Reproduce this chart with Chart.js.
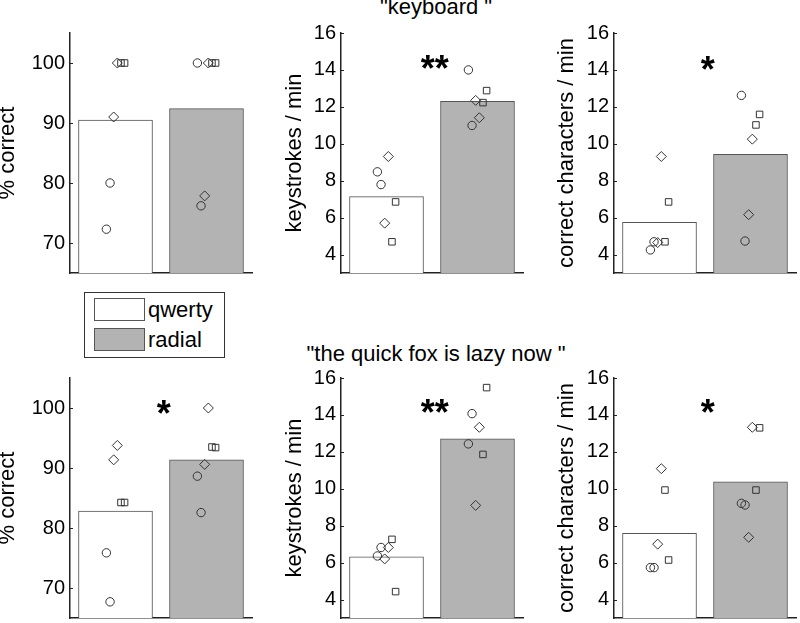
<!DOCTYPE html>
<html><head><meta charset="utf-8">
<script src="https://cdn.jsdelivr.net/npm/chart.js@4.4.0/dist/chart.umd.min.js"></script>
<style>
html,body{margin:0;padding:0;background:#fff;overflow:hidden;width:800px;height:623px;position:relative;}
canvas.c{position:absolute;}
.t{position:absolute;font-family:"Liberation Sans",Arial,sans-serif;font-size:22px;line-height:22px;color:#000;white-space:pre;}
.box{position:absolute;box-sizing:border-box;border:1px solid #333;background:#fff;}
.sw{position:absolute;box-sizing:border-box;border:1px solid #555;}
</style></head><body>
<div class="t" id="title1" style="top:-4px;left:436px;transform:translateX(-50%);"></div>
<div class="t" id="title2" style="top:343px;left:436px;transform:translateX(-50%);"></div>
<canvas class="c" id="p1" width="261" height="258" style="left:-3px;top:21px"></canvas>
<canvas class="c" id="p2" width="245" height="258" style="left:284px;top:21px"></canvas>
<canvas class="c" id="p3" width="246" height="258" style="left:556px;top:21px"></canvas>
<canvas class="c" id="p4" width="261" height="258" style="left:-3px;top:366px"></canvas>
<canvas class="c" id="p5" width="245" height="258" style="left:284px;top:366px"></canvas>
<canvas class="c" id="p6" width="246" height="258" style="left:556px;top:366px"></canvas>
<div class="box" style="left:84px;top:292px;width:141px;height:66px;"></div>
<div class="sw" style="left:94px;top:298px;width:51px;height:23px;background:#fff;"></div>
<div class="sw" style="left:94px;top:328px;width:51px;height:23px;background:#b3b3b3;"></div>
<div class="t" id="leg1" style="left:148px;top:299px;"></div>
<div class="t" id="leg2" style="left:148px;top:329px;"></div>
<script>
// ---------- data ----------
const groups = ['qwerty', 'radial'];
const rowTitles = ['"keyboard "', '"the quick fox is lazy now "'];
const yTitles = ['% correct', 'keystrokes / min', 'correct characters / min'];
const groupX = [1, 2];
// participant jitter (x offset in category units): circle1, circle2, diamond1, diamond2, square1, square2
const jitter = [-0.1, -0.06, -0.02, 0.02, 0.06, 0.1];

// row 1: "keyboard "
const kbAccMean = [90.5, 92.4];
const kbAccQwerty = [72.3, 80.0, 91.0, 100, 100, 100];
const kbAccRadial = [100, 76.2, 77.85, 100, 100, 100];
const kbKsMean = [7.14, 12.3];
const kbKsQwerty = [8.48, 7.79, 5.7, 9.31, 4.69, 6.85];
const kbKsRadial = [14.0, 10.99, 12.35, 11.41, 12.23, 12.88];
const kbCcMean = [5.75, 9.43];
const kbCcQwerty = [4.25, 4.69, 4.65, 9.31, 4.69, 6.85];
const kbCcRadial = [12.62, 4.73, 6.16, 10.25, 11.02, 11.59];

// row 2: "the quick fox is lazy now "
const fxAccMean = [82.8, 91.36];
const fxAccQwerty = [75.86, 67.7, 91.36, 93.76, 84.25, 84.25];
const fxAccRadial = [88.64, 82.57, 90.6, 100, 93.5, 93.4];
const fxKsMean = [6.32, 12.7];
const fxKsQwerty = [6.36, 6.82, 6.2, 6.82, 7.26, 4.43];
const fxKsRadial = [12.43, 14.07, 9.1, 13.33, 11.86, 15.48];
const fxCcMean = [7.59, 10.38];
const fxCcQwerty = [5.73, 5.73, 7.0, 11.09, 9.93, 6.14];
const fxCcRadial = [9.21, 9.12, 7.37, 13.33, 9.93, 13.3];

const accTicks = [70, 80, 90, 100];
const rateTicks = [4, 6, 8, 10, 12, 14, 16];
const accRange = [65, 105];
const rateRange = [3, 16];

// significance markers: text, x, y (data units)
const sigKbKs = ['**', 1.53, 14.43];
const sigKbCc = ['*', 1.53, 14.4];
const sigFxAcc = ['*', 1.53, 100.2];
const sigFxKs = ['**', 1.53, 14.47];
const sigFxCc = ['*', 1.53, 14.47];

// ---------- styles ----------
const FONT = '"Liberation Sans", Arial, Helvetica, sans-serif';
const markerStyles = ['circle', 'circle', 'rectRot', 'rectRot', 'rect', 'rect'];
const markerRadii = [4.2, 4.2, 5, 5, 4.6, 4.6];
const barFill = ['#ffffff', '#b3b3b3'];
const barEdge = ['#555555', '#555555'];

document.getElementById('title1').textContent = rowTitles[0];
document.getElementById('title2').textContent = rowTitles[1];
document.getElementById('leg1').textContent = groups[0];
document.getElementById('leg2').textContent = groups[1];

const sigPlugin = {
  id: 'sigStars',
  afterDatasetsDraw(chart, args, opts) {
    if (!opts || !opts.sig) return;
    const [text, xv, yv] = opts.sig;
    const ctx = chart.ctx;
    const px = chart.scales.x.getPixelForValue(xv);
    const py = chart.scales.y.getPixelForValue(yv);
    ctx.save();
    ctx.font = 'bold 36px ' + FONT;
    ctx.fillStyle = '#000';
    ctx.textAlign = 'center';
    ctx.textBaseline = 'alphabetic';
    const m = ctx.measureText(text);
    ctx.fillText(text, px, py + (m.actualBoundingBoxAscent - m.actualBoundingBoxDescent) / 2);
    ctx.restore();
  }
};
const inTickPlugin = {
  id: 'inTicks',
  afterDraw(chart) {
    const ys = chart.scales.y, ctx = chart.ctx, left = chart.chartArea.left;
    ctx.save();
    ctx.strokeStyle = '#222';
    ctx.lineWidth = 1;
    ctx.beginPath();
    ys.ticks.forEach(t => {
      const py = Math.round(ys.getPixelForValue(t.value)) + 0.5;
      ctx.moveTo(left, py); ctx.lineTo(left + 3, py);
    });
    ctx.stroke();
    ctx.restore();
  }
};

function makePanel(id, means, qv, rv, range, ticks, yTitle, sig, axisW) {
  const pts = (vals, g) => vals.map((v, i) => ({x: groupX[g] + jitter[i], y: v}));
  const scatterDs = (vals, g) => ({
    type: 'scatter', label: groups[g] + ' participants', data: pts(vals, g), order: 1,
    pointStyle: markerStyles, pointRadius: markerRadii,
    pointBackgroundColor: 'rgba(0,0,0,0)', pointBorderColor: '#333', pointBorderWidth: 1
  });
  new Chart(document.getElementById(id), {
    type: 'bar',
    data: {
      datasets: [
        {type: 'bar', label: 'mean', data: groupX.map((x, i) => ({x: x, y: means[i]})), order: 2,
         backgroundColor: barFill, borderColor: barEdge, borderWidth: 1, barThickness: 74, borderSkipped: 'bottom'},
        scatterDs(qv, 0), scatterDs(rv, 1)
      ]
    },
    options: {
      responsive: false, animation: false, devicePixelRatio: 1, events: [],
      layout: {padding: {top: 12, right: 2, bottom: 0, left: 0}},
      plugins: {legend: {display: false}, tooltip: {enabled: false}, sigStars: {sig: sig}},
      scales: {
        x: {type: 'linear', min: 0.5, max: 2.5, offset: false,
            grid: {display: false, drawTicks: false},
            border: {display: true, color: '#222', width: 1.5},
            ticks: {display: false},
            afterFit: s => { s.height = 2; s.paddingLeft = 0; s.paddingRight = 0; }},
        y: {type: 'linear', min: range[0], max: range[1],
            grid: {display: false, drawTicks: false},
            border: {display: true, color: '#222', width: 1.5},
            ticks: {color: '#000', font: {family: FONT, size: 20}, padding: 5},
            afterBuildTicks: s => { s.ticks = ticks.map(v => ({value: v})); },
            afterFit: s => { s.width = axisW; s.paddingTop = 0; s.paddingBottom = 0; },
            title: {display: true, text: yTitle, color: '#000', font: {family: FONT, size: 22, lineHeight: 1}, padding: 0}}
      }
    },
    plugins: [sigPlugin, inTickPlugin]
  });
}

makePanel('p1', kbAccMean, kbAccQwerty, kbAccRadial, accRange, accTicks, yTitles[0], null, 73);
makePanel('p2', kbKsMean, kbKsQwerty, kbKsRadial, rateRange, rateTicks, yTitles[1], sigKbKs, 57);
makePanel('p3', kbCcMean, kbCcQwerty, kbCcRadial, rateRange, rateTicks, yTitles[2], sigKbCc, 58);
makePanel('p4', fxAccMean, fxAccQwerty, fxAccRadial, accRange, accTicks, yTitles[0], sigFxAcc, 73);
makePanel('p5', fxKsMean, fxKsQwerty, fxKsRadial, rateRange, rateTicks, yTitles[1], sigFxKs, 57);
makePanel('p6', fxCcMean, fxCcQwerty, fxCcRadial, rateRange, rateTicks, yTitles[2], sigFxCc, 58);
</script>
</body></html>
